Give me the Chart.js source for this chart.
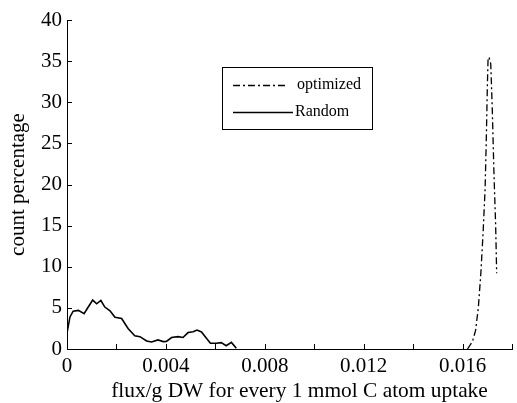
<!DOCTYPE html>
<html>
<head>
<meta charset="utf-8">
<script src="https://cdn.jsdelivr.net/npm/chart.js@4/dist/chart.umd.min.js"></script>
<style>
  html, body { margin: 0; padding: 0; background: #fff; }
  #wrap { width: 517px; height: 403px; }
</style>
</head>
<body>
<div id="wrap"><canvas id="chart" width="517" height="403"></canvas></div>
<script>
// donnees
const randomX = [0.00001, 0.00012, 0.00025, 0.00046, 0.00069, 0.00086, 0.00104, 0.0012, 0.00137, 0.00153,
    0.00174, 0.00194, 0.00221, 0.00247, 0.00274, 0.00295, 0.00322, 0.00342, 0.00368, 0.00389,
    0.00402, 0.00423, 0.00449, 0.00469, 0.0049, 0.0051, 0.00526, 0.00544, 0.00564, 0.0058,
    0.00604, 0.00624, 0.00644, 0.00665, 0.00685];
const randomY = [2.1, 3.9, 4.6, 4.7, 4.3, 5.1, 5.95, 5.5, 5.9, 5.1,
    4.65, 3.85, 3.7, 2.5, 1.6, 1.5, 0.97, 0.85, 1.1, 0.9,
    0.93, 1.4, 1.5, 1.4, 2.0, 2.1, 2.3, 2.07, 1.3, 0.7,
    0.7, 0.77, 0.4, 0.8, 0.1];
const optimizedX = [0.0162, 0.0164, 0.01653, 0.01664, 0.01674, 0.01683, 0.01691, 0.01696, 0.017, 0.01703,
    0.01707, 0.01714, 0.0172, 0.01727, 0.01734, 0.01738];
const optimizedY = [0, 0.9, 2.3, 5.1, 9.2, 14.1, 19.3, 25.4, 31.5, 35.1,
    35.5, 34.7, 29.4, 21.4, 14.9, 9.2];
const xLabelled = [0, 0.004, 0.008, 0.012, 0.016];
const seriesNames = ['optimized', 'Random'];
const xTitle = 'flux/g DW for every 1 mmol C atom uptake';

const FONT = '"Liberation Serif", "Times New Roman", serif';

function toPoints(xs, ys) {
    return xs.map(function(x, i) { return { x: x, y: ys[i] }; });
}

// ticks vers l'interieur + titre de l'axe x (un peu decale a droite)
const innerTicks = {
    id: 'innerTicks',
    afterDraw: function(chart) {
        const ctx = chart.ctx;
        const xs = chart.scales.x, ys = chart.scales.y;
        ctx.save();
        ctx.strokeStyle = '#000';
        ctx.lineWidth = 1;
        ctx.beginPath();
        xs.ticks.forEach(function(t) {
            const px = Math.round(xs.getPixelForValue(t.value)) + 0.5;
            ctx.moveTo(px, xs.top);
            ctx.lineTo(px, xs.top - 5);
        });
        ys.ticks.forEach(function(t) {
            const py = Math.round(ys.getPixelForValue(t.value)) + 0.5;
            ctx.moveTo(ys.right, py);
            ctx.lineTo(ys.right + 5, py);
        });
        ctx.stroke();

        ctx.fillStyle = '#000';
        ctx.font = '21.4px ' + FONT;
        ctx.textAlign = 'center';
        ctx.textBaseline = 'alphabetic';
        ctx.fillText(xTitle, (xs.left + xs.right) / 2 + 10, 397);
        ctx.restore();
    }
};

// legende encadree dans la zone du graphique
const boxLegend = {
    id: 'boxLegend',
    afterDraw: function(chart) {
        const ctx = chart.ctx;
        const x0 = 222, y0 = 67, w = 150, h = 62;
        ctx.save();
        ctx.strokeStyle = '#000';
        ctx.lineWidth = 1;
        ctx.strokeRect(x0 + 0.5, y0 + 0.5, w, h);
        ctx.font = '16px ' + FONT;
        ctx.fillStyle = '#000';
        ctx.textBaseline = 'middle';
        chart.data.datasets.forEach(function(ds, i) {
            const yy = i === 0 ? 85 : 112;
            ctx.beginPath();
            ctx.lineWidth = ds.borderWidth;
            ctx.setLineDash(ds.borderDash || []);
            ctx.moveTo(233, yy + 0.5);
            ctx.lineTo(i === 0 ? 288 : 293, yy + 0.5);
            ctx.stroke();
            ctx.setLineDash([]);
            ctx.fillText(ds.label, i === 0 ? 297 : 295, yy);
        });
        ctx.restore();
    }
};

new Chart(document.getElementById('chart'), {
    type: 'scatter',
    data: {
        datasets: [{
            label: seriesNames[0],
            data: toPoints(optimizedX, optimizedY),
            showLine: true,
            borderColor: '#000',
            borderWidth: 1.3,
            borderDash: [7, 3, 2, 3],
            pointRadius: 0,
            tension: 0
        }, {
            label: seriesNames[1],
            data: toPoints(randomX, randomY),
            showLine: true,
            borderColor: '#000',
            borderWidth: 1.6,
            pointRadius: 0,
            tension: 0
        }]
    },
    options: {
        responsive: false,
        animation: false,
        layout: { padding: { top: 20, right: 4, left: 0, bottom: 0 } },
        plugins: {
            legend: { display: false },
            tooltip: { enabled: false }
        },
        scales: {
            x: {
                type: 'linear',
                min: 0,
                max: 0.018,
                afterFit: function(scale) { scale.height = 54; },
                grid: { display: false, drawTicks: false },
                border: { display: true, color: '#000', width: 1 },
                ticks: {
                    stepSize: 0.002,
                    autoSkip: false,
                    maxRotation: 0,
                    padding: 5,
                    color: '#000',
                    font: { family: FONT, size: 21 },
                    callback: function(v) {
                        const hit = xLabelled.some(function(l) { return Math.abs(l - v) < 1e-9; });
                        if (!hit) return '';
                        return v === 0 ? '0' : v.toFixed(3);
                    }
                },
                title: { display: false }
            },
            y: {
                min: 0,
                max: 40,
                afterFit: function(scale) { scale.width = 67; },
                grid: { display: false, drawTicks: false },
                border: { display: true, color: '#000', width: 1 },
                ticks: {
                    stepSize: 5,
                    padding: 5,
                    color: '#000',
                    font: { family: FONT, size: 21 }
                },
                title: {
                    display: true,
                    text: 'count percentage',
                    color: '#000',
                    font: { family: FONT, size: 21 },
                    padding: { top: 6, bottom: 0 }
                }
            }
        }
    },
    plugins: [innerTicks, boxLegend]
});
</script>
</body>
</html>
